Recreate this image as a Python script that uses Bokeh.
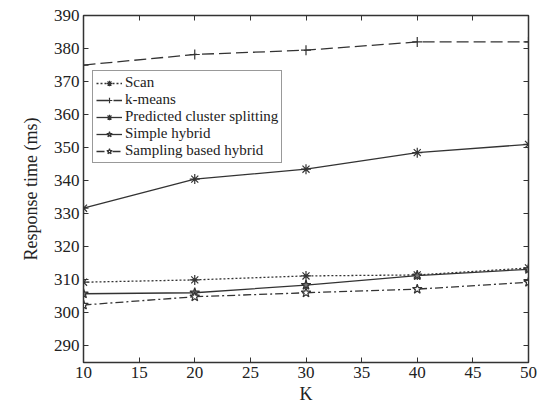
from bokeh.plotting import figure
from bokeh.models import LinearAxis, Range1d, Legend, LegendItem, FixedTicker, CustomJSTickFormatter
from bokeh.embed import file_html
from bokeh.resources import INLINE

K = [10, 20, 30, 40, 50]
scan = [309.3, 310.0, 311.2, 311.5, 313.6]
kmeans = [375.0, 378.2, 379.5, 382.0, 382.0]
pcs = [331.7, 340.5, 343.5, 348.5, 351.0]
simple_hybrid = [305.8, 306.1, 308.4, 311.3, 313.2]
sampling_hybrid = [302.4, 304.9, 306.1, 307.2, 309.3]

x_ticks = [10, 15, 20, 25, 30, 35, 40, 45, 50]
y_ticks = [290, 300, 310, 320, 330, 340, 350, 360, 370, 380, 390]

FONT = "Liberation Serif"
C = "#333333"

p = figure(width=545, height=417, output_backend="svg", toolbar_location=None,
           x_range=Range1d(10, 50), y_range=Range1d(285, 390),
           min_border_left=83, min_border_right=17, min_border_top=15, min_border_bottom=55)
p.xgrid.visible = False
p.ygrid.visible = False
p.outline_line_color = C
p.outline_line_width = 1.5

for ax in [p.xaxis[0], p.yaxis[0]]:
    ax.major_tick_in = 5
    ax.major_tick_out = 0
    ax.minor_tick_in = 0
    ax.minor_tick_out = 0
    ax.axis_line_color = C
    ax.major_tick_line_color = C
    ax.major_label_text_font = FONT
    ax.major_label_text_font_size = "17px"
    ax.major_label_text_color = "#222222"
    ax.axis_label_text_font = FONT
    ax.axis_label_text_font_size = "18px"
    ax.axis_label_text_font_style = "normal"
    ax.axis_label_text_color = "#222222"
p.xaxis[0].ticker = FixedTicker(ticks=x_ticks)
p.yaxis[0].ticker = FixedTicker(ticks=y_ticks)
p.xaxis[0].axis_label = "K"
p.yaxis[0].axis_label = "Response time (ms)"
p.xaxis[0].major_label_standoff = 4
p.yaxis[0].major_label_standoff = 4
p.xaxis[0].axis_label_standoff = 3
p.yaxis[0].axis_label_standoff = 10

blank = CustomJSTickFormatter(code="return ''")
top = LinearAxis(ticker=FixedTicker(ticks=x_ticks), formatter=blank, major_label_text_font_size="1px",
                 major_tick_in=5, major_tick_out=0, minor_tick_in=0, minor_tick_out=0,
                 major_label_standoff=0, axis_line_color=C, major_tick_line_color=C)
right = LinearAxis(ticker=FixedTicker(ticks=y_ticks), formatter=blank, major_label_text_font_size="1px",
                   major_tick_in=5, major_tick_out=0, minor_tick_in=0, minor_tick_out=0,
                   major_label_standoff=0, axis_line_color=C, major_tick_line_color=C)
p.add_layout(top, "above")
p.add_layout(right, "right")

items = []
series = [
    ("Scan", scan, "2 2", "asterisk", C),
    ("k-means", kmeans, "12 5", "cross", C),
    ("Predicted cluster splitting", pcs, "solid", "asterisk", C),
    ("Simple hybrid", simple_hybrid, "solid", "star", "#777777"),
    ("Sampling based hybrid", sampling_hybrid, "8 3 2 3", "star", "white"),
]
for name, ys, dash, marker, fill in series:
    r1 = p.line(K, ys, line_color=C, line_width=1.3, line_dash=dash)
    r2 = p.scatter(K, ys, marker=marker, size=10, line_color=C, fill_color=fill, line_width=1.2)
    items.append(LegendItem(label=name, renderers=[r1, r2]))

leg = Legend(items=items, location=(9, 199))
leg.label_text_font = FONT
leg.label_text_font_size = "15px"
leg.label_text_color = "#222222"
leg.label_height = 14
leg.glyph_height = 14
leg.glyph_width = 26
leg.spacing = 0
leg.padding = 3
leg.margin = 0
leg.label_standoff = 3
leg.border_line_color = C
leg.border_line_width = 1.2
leg.background_fill_alpha = 1.0
p.add_layout(leg, "center")

open("out.html", "w").write(file_html(p, INLINE))
